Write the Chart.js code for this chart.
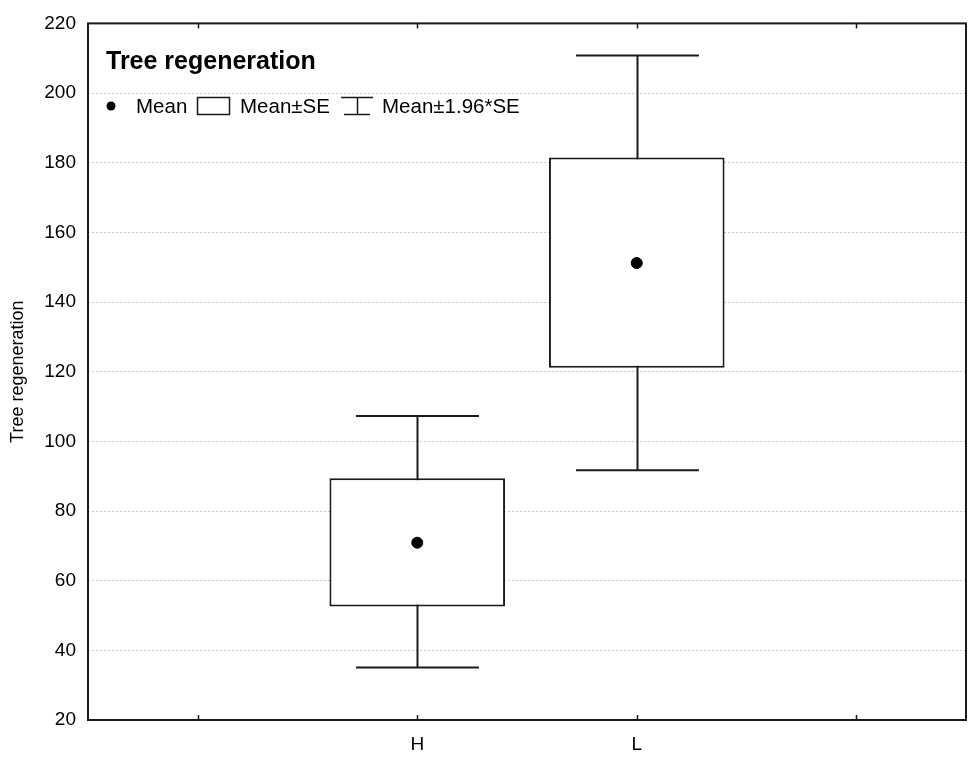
<!DOCTYPE html>
<html>
<head>
<meta charset="utf-8">
<script src="https://cdn.jsdelivr.net/npm/chart.js@4"></script>
<style>
  body { margin: 0; background: #fff; }
  #wrap { width: 975px; height: 763px; position: relative; }
</style>
</head>
<body>
<div id="wrap"><canvas id="chart"></canvas></div>
<script>
// categories (blank slots at both ends, like the original plot)
const categories = ["", "H", "L", ""];
const means = [null, 70.9, 151.2, null];
const seLow = [null, 52.6, 121.1, null];
const seHigh = [null, 89.4, 181.5, null];
const ciLow = [null, 35.1, 91.7, null];
const ciHigh = [null, 107.3, 210.8, null];
const yTicks = [20, 40, 60, 80, 100, 120, 140, 160, 180, 200, 220];

const FONT = '"Liberation Sans", Arial, sans-serif';
const INK = "#1a1a1a";

const boxPlugin = {
  id: "boxPlugin",
  beforeDatasetsDraw(chart) {
    const { ctx, scales } = chart;
    const x = scales.x, y = scales.y;
    const catW = x.width / categories.length;
    ctx.save();
    ctx.strokeStyle = INK;
    ctx.lineWidth = 2;
    categories.forEach((c, i) => {
      if (ciLow[i] == null) return;
      const cx = Math.round(x.getPixelForValue(i)) + 0.5;
      const half = catW * 0.28;
      const yl = y.getPixelForValue(ciLow[i]);
      const yh = y.getPixelForValue(ciHigh[i]);
      ctx.beginPath();
      ctx.moveTo(cx, yl);
      ctx.lineTo(cx, yh);
      ctx.moveTo(cx - half, yl);
      ctx.lineTo(cx + half, yl);
      ctx.moveTo(cx - half, yh);
      ctx.lineTo(cx + half, yh);
      ctx.stroke();
    });
    ctx.restore();
  },
  afterDraw(chart) {
    const { ctx, chartArea: a, scales } = chart;
    ctx.save();
    // frame
    ctx.strokeStyle = INK;
    ctx.lineWidth = 2;
    ctx.strokeRect(a.left, a.top, a.right - a.left, a.bottom - a.top);
    // inward x ticks, top and bottom
    ctx.lineWidth = 1.5;
    ctx.beginPath();
    categories.forEach((c, i) => {
      const px = Math.round(scales.x.getPixelForValue(i)) + 0.5;
      ctx.moveTo(px, a.bottom);
      ctx.lineTo(px, a.bottom - 5);
      ctx.moveTo(px, a.top);
      ctx.lineTo(px, a.top + 5);
    });
    ctx.stroke();

    // legend
    ctx.fillStyle = "#000";
    ctx.textBaseline = "alphabetic";
    ctx.font = "bold 25px " + FONT;
    ctx.fillText("Tree regeneration", 106, 69);

    ctx.font = "20.5px " + FONT;
    ctx.beginPath();
    ctx.arc(111, 106, 4.5, 0, Math.PI * 2);
    ctx.fill();
    ctx.fillText("Mean", 136, 113);

    ctx.lineWidth = 1.5;
    ctx.strokeStyle = INK;
    ctx.strokeRect(197.5, 97.5, 32, 17);
    ctx.fillText("Mean\u00b1SE", 240, 113);

    ctx.beginPath();
    ctx.moveTo(341, 97.5); ctx.lineTo(373, 97.5);
    ctx.moveTo(357.5, 97.5); ctx.lineTo(357.5, 114.5);
    ctx.moveTo(344, 114.5); ctx.lineTo(370, 114.5);
    ctx.stroke();
    ctx.fillText("Mean\u00b11.96*SE", 382, 113);
    ctx.restore();
  }
};

new Chart(document.getElementById("chart"), {
  data: {
    labels: categories,
    datasets: [
      {
        type: "line",
        label: "Mean",
        data: means,
        showLine: false,
        pointRadius: 5.5,
        pointBackgroundColor: "#000",
        pointBorderColor: "#000",
        order: 0
      },
      {
        type: "bar",
        label: "Mean\u00b1SE",
        data: categories.map((c, i) => (seLow[i] == null ? null : [seLow[i], seHigh[i]])),
        backgroundColor: "#fff",
        borderColor: INK,
        borderWidth: 2,
        borderSkipped: false,
        barPercentage: 0.8,
        categoryPercentage: 1,
        order: 1
      }
    ]
  },
  options: {
    responsive: true,
    maintainAspectRatio: false,
    animation: false,
    layout: { padding: { top: 21, right: 9, left: 0, bottom: 0 } },
    plugins: {
      legend: { display: false },
      tooltip: { enabled: false }
    },
    scales: {
      x: {
        type: "category",
        offset: true,
        grid: { display: false, drawTicks: false },
        border: { display: false },
        ticks: { color: "#000", font: { family: FONT, size: 19 }, padding: 13 },
        afterFit: (s) => { s.height = 43; }
      },
      y: {
        min: 20,
        max: 220,
        afterBuildTicks: (s) => { s.ticks = yTicks.map((v) => ({ value: v })); },
        grid: { color: "#c8c8c8", lineWidth: 1, drawTicks: false },
        border: { display: false, dash: [2, 2] },
        ticks: { color: "#000", font: { family: FONT, size: 19 }, padding: 12 },
        title: {
          display: true,
          text: "Tree regeneration",
          color: "#000",
          font: { family: FONT, size: 18 },
          padding: { top: 7, bottom: 0 }
        },
        afterFit: (s) => { s.width = 88; }
      }
    }
  },
  plugins: [boxPlugin]
});
</script>
</body>
</html>
